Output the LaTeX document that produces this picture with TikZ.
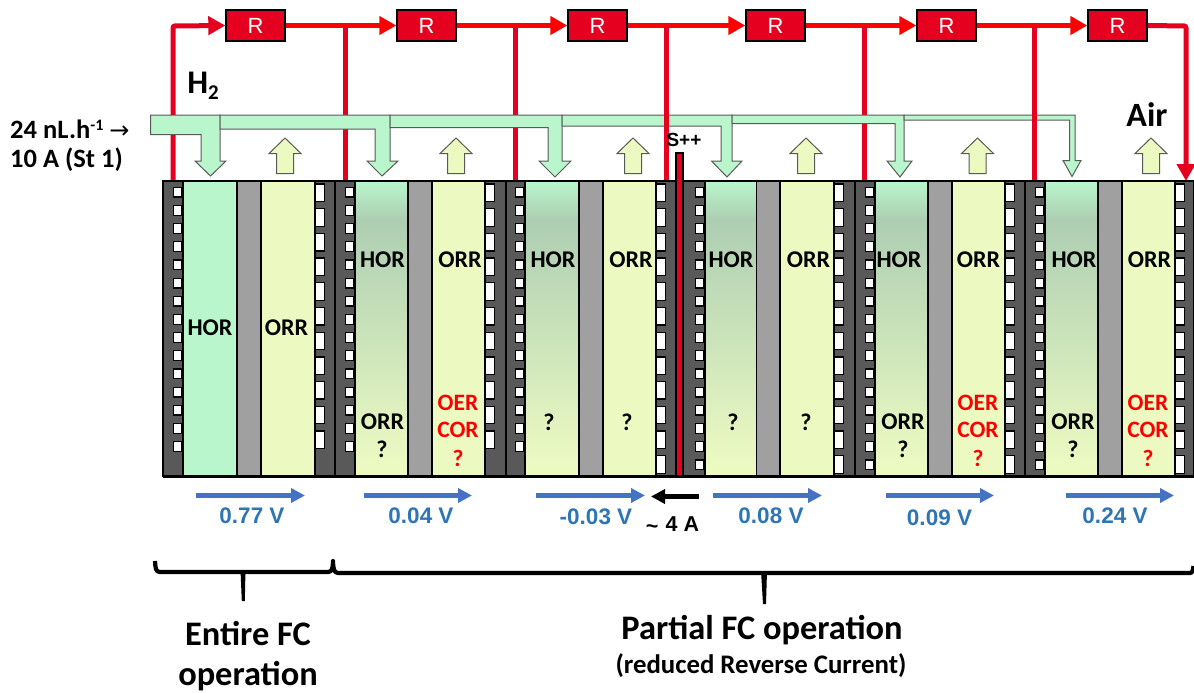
\documentclass[tikz,border=0pt]{standalone}
\usepackage{fontspec}
\setmainfont{Carlito}
\newfontfamily\arialfont{Liberation Sans}
\newfontfamily\arrowfont{DejaVu Sans}
\usetikzlibrary{arrows.meta}
\definecolor{plate}{HTML}{595959}
\definecolor{memb}{HTML}{A0A0A0}
\definecolor{anod}{HTML}{B9F6CC}
\definecolor{cath}{HTML}{ECFAC2}
\definecolor{wirered}{HTML}{E60020}
\definecolor{voltblue}{HTML}{4472C4}
\definecolor{voltlab}{HTML}{2E75B6}
\definecolor{gradmid}{HTML}{ADCEB3}
\pgfdeclareverticalshading{anograd}{100bp}{color(0bp)=(cath); color(27bp)=(cath); color(68.5bp)=(gradmid); color(75bp)=(anod); color(100bp)=(anod)}
\tikzset{
  part/.style={draw=black,line width=1.2pt},
  sq/.style={draw=black,fill=white,line width=1.3pt},
  tube/.style={draw=plate,fill=anod,line width=1pt,line join=miter},
  uparr/.style={draw=plate,fill=cath,line width=1pt},
  wire/.style={draw=wirered,line width=5pt},
  wiretop/.style={draw=red,line width=5pt},
  redtip/.style={-{Triangle[length=17pt,width=18pt]}},
  res/.style={draw=black,fill=wirered,line width=1.4pt,minimum width=59pt,minimum height=31pt,inner sep=0pt,text=white,font=\arialfont\fontsize{22}{24}\selectfont},
  rx/.style={inner sep=0pt,font=\bfseries\fontsize{24}{26}\selectfont},
  ox/.style={inner sep=0pt,text=red,font=\bfseries\fontsize{23.5}{26}\selectfont},
  volt/.style={draw=voltblue,line width=5pt,-{Triangle[length=14pt,width=14pt]}},
  vlab/.style={inner sep=0pt,text=voltlab,font=\arialfont\bfseries\fontsize{22.5}{24}\selectfont},
  blk/.style={inner sep=0pt,font=\bfseries\fontsize{26.5}{28}\selectfont},
}
\begin{document}
\begin{tikzpicture}[x=1pt,y=-1pt]
\useasboundingbox (0,0) rectangle (1194,693);
% resistors
\foreach \n/\x in {1/255.5,2/426.5,3/597.5,4/775.5,5/946.5,6/1117.5}
  \node[res] (R\n) at (\x,25.5) {R};
% terminals
\foreach \n/\x in {1/173,2/345,3/515.5,4/666.3,5/864,6/1034.7}{
  \coordinate (top\n) at (\x,26);
  \coordinate (foot\n) at (\x,180);
}
\coordinate (corner) at (1186,26);
\coordinate (endR) at (1186,181);
% wires under the gas tube
\draw[wire,redtip,rounded corners=2pt] (foot1) -- (top1) -- (R1.west);
\foreach \a/\b in {1/2,2/3,3/4,4/5,5/6}
  \draw[wiretop,redtip] (R\a.east) -- (R\b.west);
\draw[wire,redtip,rounded corners=2pt] (R6.east) -- (corner) -- (endR);
\foreach \n in {2,3,5} \draw[wire] (top\n) -- (foot\n);
% gas tube
\draw[tube] (150.5,115)--(220,115)--(220,161)--(226,161)--(210.5,176)--(195,161)--(201,161)--(201,134.5)--(150.5,134.5)--cycle;
\draw[tube] (220,115)--(390,115)--(390,161)--(398,161)--(382,176)--(367,161)--(375,161)--(375,129)--(220,129)--cycle;
\draw[tube] (390,115)--(562,115)--(562,161)--(571,161)--(555,177)--(539,161)--(548,161)--(548,127.7)--(390,127.7)--cycle;
\draw[tube] (562,115)--(732,115)--(732,161)--(742,161)--(727,177)--(711.5,161)--(721,161)--(721,126)--(562,126)--cycle;
\draw[tube] (732,115)--(904,115)--(904,161)--(912,161)--(900,177)--(887,161)--(895,161)--(895,123.5)--(732,123.5)--cycle;
\draw[tube] (904,115)--(1075,115)--(1075,160.5)--(1081,160.5)--(1072,176.5)--(1063,160.5)--(1069.5,160.5)--(1069.5,120)--(904,120)--cycle;
% wires over the gas tube
\foreach \n in {4,6} \draw[wire] (top\n) -- (foot\n);
% up arrows (air)
\foreach \x in {285,456,633,806,977.5,1151}
  \draw[uparr] (\x,138)--(\x+16,153.5)--(\x+8.5,153.5)--(\x+8.5,173.5)--(\x-8.5,173.5)--(\x-8.5,153.5)--(\x-16,153.5)--cycle;
% cells
\foreach \xa/\xb/\xc/\xd/\xe/\xf/\ns/\nr/\gr in {
  163/183/237/261/315/334.5/15/11/0,
  335/355/408/432/485/505.5/15/11/1,
  506/525/579/603/656/675.5/15/12/1,
  683.5/705/756.5/780/834/854.5/16/12/1,
  855/875/928/952/1005/1025/16/12/1,
  1025/1045/1098/1122/1175/1194/16/12/1}{
  \draw[part,fill=plate] (\xa,181) rectangle (\xb,476);
  \ifnum\gr=1
    \shadedraw[part,shading=anograd] (\xb,181) rectangle (\xc,476);
  \else
    \draw[part,fill=anod] (\xb,181) rectangle (\xc,476);
  \fi
  \draw[part,fill=memb] (\xc,181) rectangle (\xd,476);
  \draw[part,fill=cath] (\xd,181) rectangle (\xe,476);
  \draw[part,fill=plate] (\xe,181) rectangle (\xf,476);
  \pgfmathtruncatemacro{\lasts}{\ns-1}
  \foreach \k in {0,...,\lasts}
    \draw[sq] (\xb-9.3,187.3+18.17*\k) rectangle (\xb-1,197+18.17*\k);
  \pgfmathtruncatemacro{\lastr}{\nr-1}
  \foreach \k in {0,...,\lastr}
    \draw[sq] (\xe+0.8,184+24.7*\k) rectangle (\xe+9.2,201.5+24.7*\k);
}
\draw[black,line width=1.6pt] (163,180.5) -- (1194,180.5);
\draw[black,line width=2pt] (163,476.5) -- (1194,476.5);
% stainless steel probe
\draw[draw=black,fill=wirered,line width=1.3pt] (676,153) rectangle (683,476);
\node[inner sep=0pt,font=\arialfont\bfseries\fontsize{19}{21}\selectfont] (probe) at (684,139.5) {S++};
% reaction labels
\foreach \t/\x/\y [count=\n] in {HOR/210/328,ORR/286.5/328,
  HOR/382.5/260,ORR/460/260,ORR/382.5/422,?/382/449,
  HOR/553/260,ORR/631/260,?/549/422,?/627/422,
  HOR/731/260,ORR/808.5/260,?/733/422,?/806/422,
  HOR/899/260,ORR/978.5/260,ORR/903/422,?/903/449,
  HOR/1074/260,ORR/1149.5/260,ORR/1073/422,?/1073/449}
  \node[rx] (rxn\n) at (\x,\y) {\t};
\foreach \t/\x/\y [count=\n] in {OER/458/403,COR/458/430,?/458/458,
  OER/978/403,COR/978/430,?/978/458,
  OER/1148/403,COR/1148/430,?/1148/458}
  \node[ox] (oxn\n) at (\x,\y) {\t};
% voltage arrows
\foreach \n/\a/\b in {1/196/305,2/364/472,3/536/645,4/713/822,5/885.5/994,6/1065.5/1174}{
  \coordinate (vs\n) at (\a,495.5);
  \coordinate (ve\n) at (\b,495.5);
  \draw[volt] (vs\n) -- (ve\n);
}
\foreach \t/\x/\y [count=\n] in {0.77 V/252/516,0.04 V/421/516,-0.03 V/596/517,0.08 V/771/516,0.09 V/939.5/518,0.24 V/1115/516}
  \node[vlab] (vl\n) at (\x,\y) {\t};
% reverse current
\coordinate (cs) at (699,496.5);
\coordinate (ce) at (651,496.5);
\draw[black,line width=4.5pt,-{Triangle[length=14pt,width=14pt]}] (cs) -- (ce);
\node[inner sep=0pt,font=\arialfont\bfseries\fontsize{21.5}{24}\selectfont] (cur) at (672.5,525) {\raisebox{-2pt}{\textasciitilde}\,\,4 A};
% gas labels
\node[inner sep=0pt,font=\bfseries\fontsize{33}{35}\selectfont] (hyd) at (203,86) {H\raisebox{-6pt}{\fontsize{21}{23}\selectfont 2}};
\node[inner sep=0pt,font=\bfseries\fontsize{34}{36}\selectfont] (air) at (1147,115) {Air};
\node[blk,anchor=west] (flow) at (10,129) {24 nL.h\raisebox{8pt}{\fontsize{16}{17}\selectfont -1} {\arrowfont\mdseries\fontsize{24}{26}\selectfont →}};
\node[blk,anchor=west] (st) at (10,160) {10 A (St 1)};
% brackets
\draw[black,line width=4.2pt,line join=round] (155,561) .. controls (155.5,568) and (155.5,572) .. (160,572) -- (328,572) .. controls (332,572) and (333,568) .. (333,561) .. controls (333,568) and (334,573) .. (338,573) -- (1190,573) .. controls (1192.5,573) and (1193,570) .. (1193.5,566);
\fill[black] (240.5,570) -- (245.5,570) -- (244.8,601) -- (241.8,601) -- cycle;
\fill[black] (761,571) -- (767,571) -- (766,604) -- (763,604) -- cycle;
\node[inner sep=0pt,font=\bfseries\fontsize{34.4}{36}\selectfont] (entire) at (248,634) {Entire FC};
\node[inner sep=0pt,font=\bfseries\fontsize{34.4}{36}\selectfont] (oper) at (248,676) {operation};
\node[inner sep=0pt,font=\bfseries\fontsize{34.4}{36}\selectfont] (part) at (762,630) {Partial FC operation};
\node[inner sep=0pt,font=\bfseries\fontsize{26.8}{28}\selectfont] (redu) at (761,666) {(reduced Reverse Current)};
\end{tikzpicture}
\end{document}
